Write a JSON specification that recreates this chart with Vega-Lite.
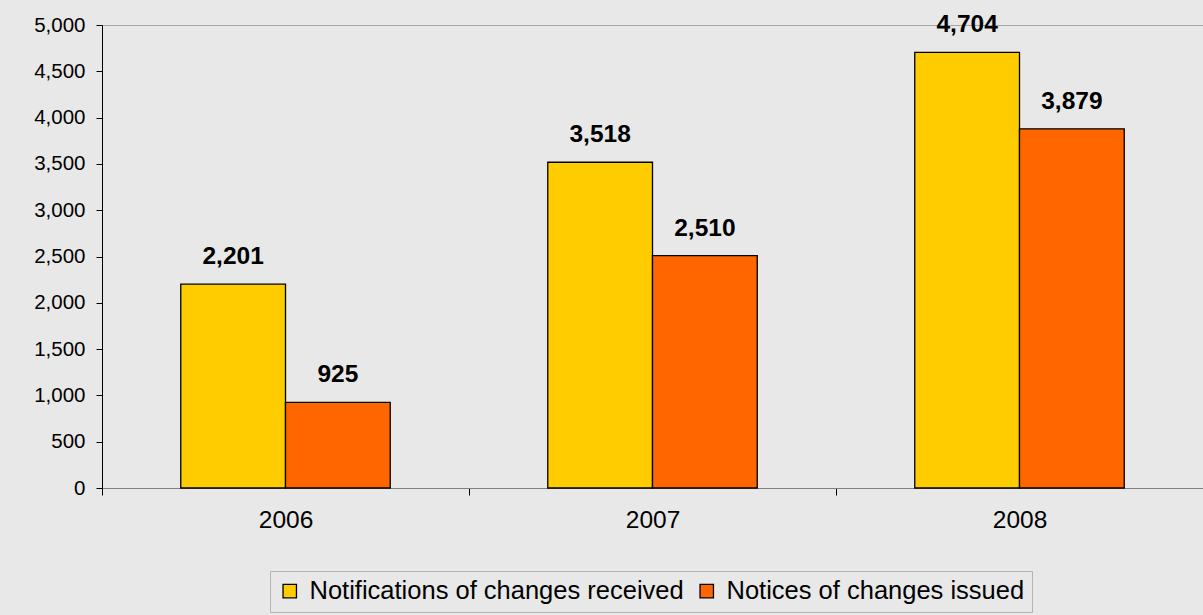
{
  "$schema": "https://vega.github.io/schema/vega-lite/v6.json",
  "width": 1101,
  "height": 463,
  "autosize": {"type": "none"},
  "padding": {"left": 102, "top": 25, "right": 0, "bottom": 127},
  "background": "#e8e8e8",
  "config": {
    "view": {"stroke": "#a6a6a6", "strokeWidth": 1},
    "font": "Liberation Sans"
  },
  "data": {
    "values": [
      {"year": "2006", "series": "Notifications of changes received", "value": 2201},
      {"year": "2006", "series": "Notices of changes issued", "value": 925},
      {"year": "2007", "series": "Notifications of changes received", "value": 3518},
      {"year": "2007", "series": "Notices of changes issued", "value": 2510},
      {"year": "2008", "series": "Notifications of changes received", "value": 4704},
      {"year": "2008", "series": "Notices of changes issued", "value": 3879}
    ]
  },
  "encoding": {
    "x": {
      "field": "year",
      "type": "nominal",
      "scale": {"paddingInner": 0, "paddingOuter": 0},
      "axis": {
        "title": null,
        "labelAngle": 0,
        "tickBand": "extent",
        "domainColor": "#808080",
        "tickColor": "#000000",
        "tickSize": 7,
        "labelFontSize": 24.5,
        "labelColor": "#000000",
        "labelPadding": 13,
        "grid": false
      }
    },
    "xOffset": {
      "field": "series",
      "type": "nominal",
      "sort": ["Notifications of changes received", "Notices of changes issued"],
      "scale": {"paddingInner": 0, "paddingOuter": 0.752}
    },
    "y": {
      "field": "value",
      "type": "quantitative",
      "scale": {"domain": [0, 5000]},
      "axis": {
        "title": null,
        "values": [0, 500, 1000, 1500, 2000, 2500, 3000, 3500, 4000, 4500, 5000],
        "format": ",d",
        "grid": false,
        "domainColor": "#000000",
        "tickColor": "#000000",
        "tickSize": 6,
        "labelFontSize": 20.5,
        "labelColor": "#000000",
        "labelPadding": 11
      }
    }
  },
  "layer": [
    {
      "mark": {"type": "bar", "stroke": "#000000", "strokeWidth": 1.3},
      "encoding": {
        "color": {
          "field": "series",
          "type": "nominal",
          "sort": ["Notifications of changes received", "Notices of changes issued"],
          "scale": {
            "domain": ["Notifications of changes received", "Notices of changes issued"],
            "range": ["#FFCC00", "#FF6600"]
          },
          "legend": {
            "title": null,
            "orient": "none",
            "legendX": 168,
            "legendY": 546,
            "direction": "horizontal",
            "symbolType": "square",
            "symbolSize": 180,
            "symbolStrokeColor": "#000000",
            "symbolStrokeWidth": 1.3,
            "symbolOpacity": 1,
            "labelFontSize": 25.5,
            "labelColor": "#000000",
            "labelLimit": 500,
            "strokeColor": "#b4b4b4",
            "padding": 7,
            "columnSpacing": 11,
            "labelOffset": 7
          }
        }
      }
    },
    {
      "mark": {"type": "text", "fontWeight": "bold", "fontSize": 24.5, "dy": -20, "baseline": "alphabetic", "color": "#000000"},
      "encoding": {
        "text": {"field": "value", "type": "quantitative", "format": ",d"}
      }
    }
  ]
}
